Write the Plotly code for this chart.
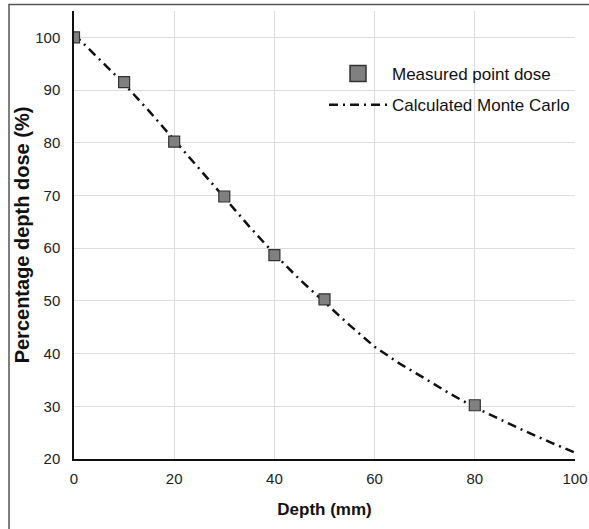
import plotly.graph_objects as go

# Measured point dose
meas_depth = [0, 10, 20, 30, 40, 50, 80]
meas_dose = [100.0, 91.5, 80.2, 69.8, 58.7, 50.3, 30.2]

# Calculated Monte Carlo curve
mc_depth = [0, 5, 10, 15, 20, 25, 30, 35, 40, 45, 50, 55, 60, 65, 70, 75, 80, 85, 90, 95, 100]
mc_dose = [100.6, 96.0, 91.2, 86.0, 80.6, 75.1, 69.6, 64.1, 58.9, 54.1, 49.8, 45.4, 41.3, 38.1, 35.3, 32.4, 29.8, 27.5, 25.3, 23.2, 21.2]

x_ticks = [0, 20, 40, 60, 80, 100]
y_ticks = [20, 30, 40, 50, 60, 70, 80, 90, 100]

W, H = 589, 529
L, R, T, B = 74, 14, 11, 70
pw, ph = W - L - R, H - T - B

def px(xp):
    return (xp - L) / pw

def py(yp):
    return (H - B - yp) / ph

font = "Liberation Sans, Arial, Helvetica, sans-serif"
marker_fill = "#808080"
marker_edge = "#333333"

fig = go.Figure()
fig.add_trace(go.Scatter(
    x=mc_depth, y=mc_dose, mode="lines", name="Calculated Monte Carlo",
    legendgroup="mc", legendrank=2,
    line=dict(color="#111111", width=2.5, dash="9px,5px,2px,5px"),
))
fig.add_trace(go.Scatter(
    x=meas_depth, y=meas_dose, mode="markers", name="Measured point dose",
    showlegend=False, legendgroup="meas", legendrank=1,
    marker=dict(symbol="square", size=11, color=marker_fill,
                line=dict(color=marker_edge, width=1.2)),
))
# legend entry for measured points (larger symbol, as in the original legend)
fig.add_trace(go.Scatter(
    x=[None], y=[None], mode="markers", name="Measured point dose",
    legendgroup="meas", legendrank=1,
    marker=dict(symbol="square", size=20, color=marker_fill,
                line=dict(color=marker_edge, width=1.5)),
))

fig.update_layout(
    width=W, height=H,
    margin=dict(l=L, r=R, t=T, b=B, autoexpand=False),
    paper_bgcolor="white", plot_bgcolor="white",
    font=dict(family=font, color="#222222", size=15),
    showlegend=True,
    legend=dict(x=px(324), y=py(56), xanchor="left", yanchor="top",
                traceorder="grouped", bgcolor="rgba(0,0,0,0)",
                font=dict(size=17, color="#111111"), itemwidth=58,
                tracegroupgap=6),
    xaxis=dict(range=[0, 100], tickvals=x_ticks, showgrid=True,
               gridcolor="#dddddd", gridwidth=1, zeroline=False,
               showline=True, linecolor="#111111", linewidth=1.5,
               ticks="", ticklabelstandoff=5,
               title=dict(text="<b>Depth (mm)</b>", font=dict(size=17, color="#111111"), standoff=17),
               tickfont=dict(size=15)),
    yaxis=dict(range=[20, 105], tickvals=y_ticks, showgrid=True,
               gridcolor="#dddddd", gridwidth=1, zeroline=False,
               showline=True, linecolor="#111111", linewidth=1.5,
               ticks="", ticklabelstandoff=9,
               title=dict(text="<b>Percentage depth dose (%)</b>", font=dict(size=20, color="#111111"), standoff=0),
               tickfont=dict(size=15)),
    shapes=[dict(type="path", xref="paper", yref="paper",
                 path=f"M {px(9)} {py(540)} L {px(9)} {py(4.5)} L {px(600)} {py(4.5)}",
                 line=dict(color="#555555", width=1.5))],
)

fig.write_html("out.html", config={"displayModeBar": False},
               post_script="document.body.style.margin='0';")
